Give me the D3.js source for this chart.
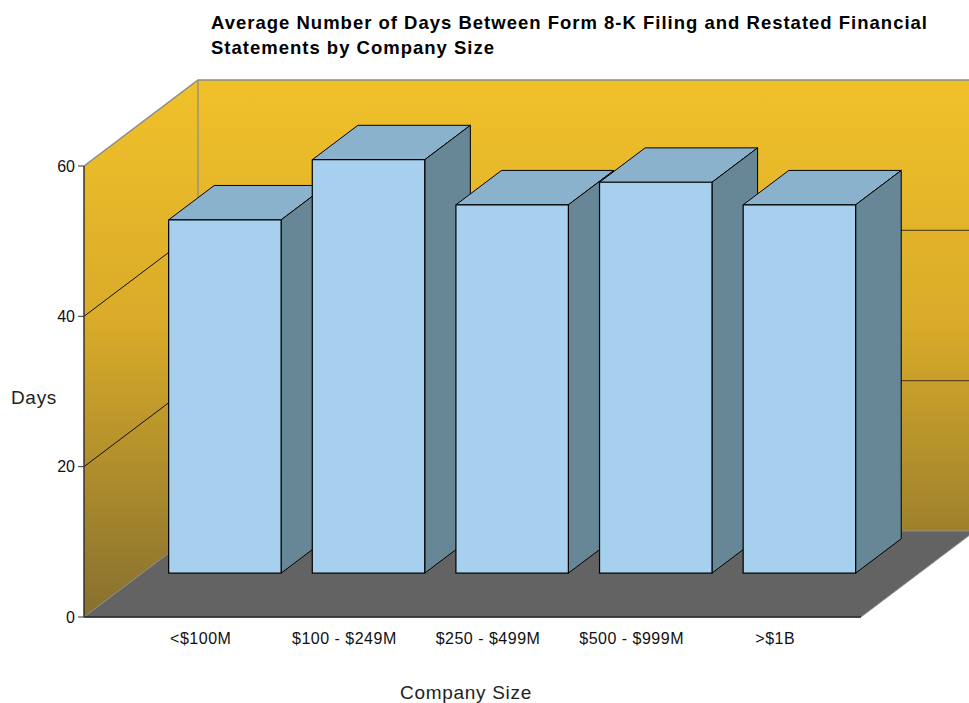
<!DOCTYPE html>
<html>
<head>
<meta charset="utf-8">
<script src="https://cdn.jsdelivr.net/npm/d3@7"></script>
<style>
  body { margin: 0; background: #fff; }
  text { font-family: "Liberation Sans", Arial, sans-serif; }
</style>
</head>
<body>
<script>
var categories = ["<$100M", "$100 - $249M", "$250 - $499M", "$500 - $999M", ">$1B"];
var days = [47, 55, 49, 52, 49];
var yTicks = [0, 20, 40, 60];
var titleLines = ["Average Number of Days Between Form 8-K Filing and Restated Financial",
                  "Statements by Company Size"];

var W = 969, H = 703;

// front plane of the 3d box
var plotL = 84, plotR = 861, plotB = 617, plotT = 166;
// depth offset of the back plane
var DX = 114, DY = -86;
// bars sit between these depth fractions
var f1 = 0.51, f2 = 0.91;

var x = d3.scaleBand()
    .domain(categories)
    .range([95, 813])
    .paddingInner(0.217)
    .paddingOuter(0.108);

var y = d3.scaleLinear()
    .domain([0, 60])
    .range([plotB, plotT]);

var svg = d3.select("body").append("svg")
    .attr("width", W)
    .attr("height", H);

var defs = svg.append("defs");
var grad = defs.append("linearGradient")
    .attr("id", "wall")
    .attr("gradientUnits", "userSpaceOnUse")
    .attr("x1", 0).attr("y1", y(60) + DY)
    .attr("x2", 0).attr("y2", y(0));
grad.append("stop").attr("offset", 0).attr("stop-color", "#f1c129");
grad.append("stop").attr("offset", 0.45).attr("stop-color", "#d9ab29");
grad.append("stop").attr("offset", 1).attr("stop-color", "#86702f");

function pt(px, py, f) { return [px + f * DX, py + f * DY]; }
function poly(points) { return "M" + points.map(function(p) { return p.join(","); }).join("L") + "Z"; }

var g = svg.append("g");

// back wall
g.append("path")
    .attr("d", poly([pt(plotL, y(60), 1), pt(plotR + 200, y(60), 1), pt(plotR + 200, y(0), 1), pt(plotL, y(0), 1)]))
    .attr("fill", "url(#wall)");

// left wall
g.append("path")
    .attr("d", poly([pt(plotL, y(60), 0), pt(plotL, y(60), 1), pt(plotL, y(0), 1), pt(plotL, y(0), 0)]))
    .attr("fill", "url(#wall)");

// grid lines
yTicks.filter(function(t) { return t > 0 && t < 60; }).forEach(function(t) {
    var a = pt(plotL, y(t), 0), b = pt(plotL, y(t), 1), c = pt(plotR + 200, y(t), 1);
    g.append("line")
        .attr("x1", a[0]).attr("y1", a[1]).attr("x2", b[0]).attr("y2", b[1])
        .attr("stroke", "#111").attr("stroke-width", 1);
    g.append("line")
        .attr("x1", b[0]).attr("y1", b[1]).attr("x2", c[0]).attr("y2", c[1])
        .attr("stroke", "#5e4c16").attr("stroke-width", 1.3);
});

// wall edges
var tl = pt(plotL, y(60), 1);
g.append("path")
    .attr("d", "M" + pt(plotL, y(60), 0).join(",") + "L" + tl.join(",") + "L" + (W + 20) + "," + tl[1])
    .attr("fill", "none").attr("stroke", "#8a8a8a").attr("stroke-width", 1.5);
g.append("line")
    .attr("x1", tl[0]).attr("y1", tl[1]).attr("x2", tl[0]).attr("y2", y(0) + DY)
    .attr("stroke", "#8a8a8a").attr("stroke-width", 1.2);

// floor
g.append("path")
    .attr("d", poly([pt(plotL, y(0), 0), pt(plotR, y(0), 0), pt(plotR, y(0), 1), pt(plotL, y(0), 1)]))
    .attr("fill", "#636363")
    .attr("stroke", "#8a8a8a").attr("stroke-width", 1);

// front axis lines
g.append("line")
    .attr("x1", plotL).attr("y1", y(0)).attr("x2", plotR).attr("y2", y(0))
    .attr("stroke", "#222").attr("stroke-width", 1.3);
g.append("line")
    .attr("x1", plotL).attr("y1", y(60)).attr("x2", plotL).attr("y2", y(0))
    .attr("stroke", "#333").attr("stroke-width", 1.5);

// y ticks
var ticks = g.selectAll("g.ytick").data(yTicks).enter().append("g")
    .attr("class", "ytick")
    .attr("transform", function(d) { return "translate(" + plotL + "," + y(d) + ")"; });
ticks.append("line").attr("x1", -6).attr("x2", 0).attr("stroke", "#333");
ticks.append("text")
    .attr("x", -9).attr("dy", "0.36em")
    .attr("text-anchor", "end")
    .attr("font-size", 16).attr("fill", "#111")
    .text(function(d) { return d; });

// bars, left to right so later bars cover the sides of earlier ones
var bars = g.selectAll("g.bar").data(categories.map(function(c, i) { return {c: c, v: days[i]}; }))
    .enter().append("g").attr("class", "bar");

bars.each(function(d) {
    var sel = d3.select(this);
    var x0 = x(d.c), x1 = x(d.c) + x.bandwidth();
    var y0 = y(0), y1 = y(d.v);
    // top face
    sel.append("path")
        .attr("d", poly([pt(x0, y1, f1), pt(x1, y1, f1), pt(x1, y1, f2), pt(x0, y1, f2)]))
        .attr("fill", "#8ab2cc").attr("stroke", "#000").attr("stroke-width", 1)
        .attr("stroke-linejoin", "round");
    // side face
    sel.append("path")
        .attr("d", poly([pt(x1, y1, f1), pt(x1, y1, f2), pt(x1, y0, f2), pt(x1, y0, f1)]))
        .attr("fill", "#678797").attr("stroke", "#000").attr("stroke-width", 1)
        .attr("stroke-linejoin", "round");
    // front face
    sel.append("path")
        .attr("d", poly([pt(x0, y1, f1), pt(x1, y1, f1), pt(x1, y0, f1), pt(x0, y0, f1)]))
        .attr("fill", "#a6d0ee").attr("stroke", "#000").attr("stroke-width", 1.2)
        .attr("stroke-linejoin", "round");
});

// category labels
g.selectAll("text.xlab").data(categories).enter().append("text")
    .attr("class", "xlab")
    .attr("x", function(d) { return x(d) + x.bandwidth() / 2 + 34; })
    .attr("y", plotB + 27)
    .attr("text-anchor", "middle")
    .attr("font-size", 16).attr("letter-spacing", 0.5).attr("fill", "#111")
    .text(function(d) { return d; });

// axis titles
svg.append("text")
    .attr("x", 34).attr("y", y(30) + 12)
    .attr("text-anchor", "middle")
    .attr("font-size", 19).attr("letter-spacing", 0.7).attr("fill", "#222")
    .text("Days");

svg.append("text")
    .attr("x", 466).attr("y", 699)
    .attr("text-anchor", "middle")
    .attr("font-size", 19).attr("letter-spacing", 0.7).attr("fill", "#222")
    .text("Company Size");

// title
svg.append("g").selectAll("text").data(titleLines).enter().append("text")
    .attr("x", 211)
    .attr("y", function(d, i) { return 29 + i * 25; })
    .attr("font-size", 18.5).attr("letter-spacing", 1).attr("font-weight", "bold").attr("fill", "#000")
    .text(function(d) { return d; });
</script>
</body>
</html>
